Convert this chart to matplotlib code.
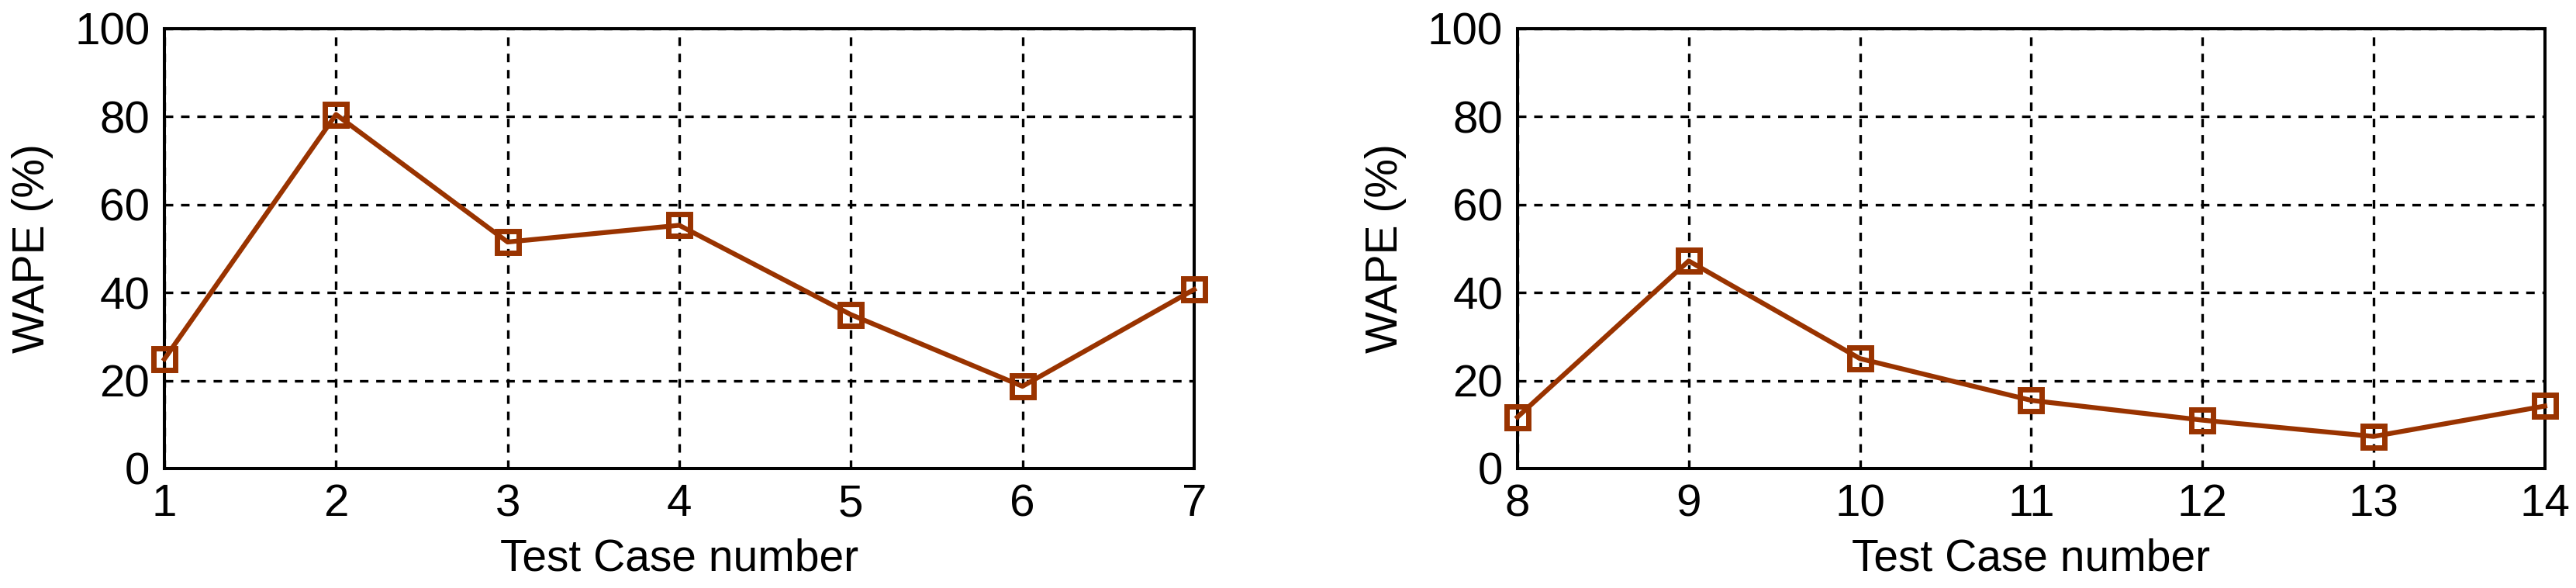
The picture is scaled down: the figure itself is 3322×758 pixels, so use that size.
import matplotlib
matplotlib.use("Agg")
import matplotlib.pyplot as plt

# test cases and WAPE values
cases_a = [1, 2, 3, 4, 5, 6, 7]
wape_a = [24.9, 80.5, 51.5, 55.3, 35.0, 18.7, 40.7]
cases_b = [8, 9, 10, 11, 12, 13, 14]
wape_b = [11.7, 47.2, 25.0, 15.5, 11.0, 7.3, 14.2]
y_ticks = [0, 20, 40, 60, 80, 100]

line_col = "#993300"

plt.rcParams["font.family"] = ["Liberation Sans", "DejaVu Sans"]
plt.rcParams["lines.scale_dashes"] = False

fig = plt.figure(figsize=(33.23, 7.58), dpi=100)
ax1 = fig.add_axes([0.0638, 0.2032, 0.3996, 0.748])
ax2 = fig.add_axes([0.5889, 0.2032, 0.3987, 0.748])

for ax, xs, ys in [(ax1, cases_a, wape_a), (ax2, cases_b, wape_b)]:
    ax.plot(xs, ys, color=line_col, lw=4.5, marker="s", markersize=20,
            markerfacecolor="none", markeredgecolor=line_col, markeredgewidth=5,
            clip_on=False, zorder=3)
    ax.set_xlim(xs[0], xs[-1])
    ax.set_ylim(0, 100)
    ax.set_xticks(xs)
    ax.set_yticks(y_ticks)
    ax.grid(True, color="black", lw=2.4, linestyle=(0, (7.9, 7.2)))
    ax.tick_params(axis="both", length=0, labelsize=42)
    ax.tick_params(axis="x", pad=14)
    ax.tick_params(axis="y", pad=13.5)
    for sp in ax.spines.values():
        sp.set_linewidth(2.9)
    ax.set_xlabel("Test Case number", fontsize=41, va="center")
    ax.xaxis.set_label_coords(0.5, -0.205)
    ax.set_ylabel("WAPE (%)", fontsize=41, va="center")
    ax.yaxis.set_label_coords(-0.128, 0.5)

fig.savefig("out.png", dpi=100)
